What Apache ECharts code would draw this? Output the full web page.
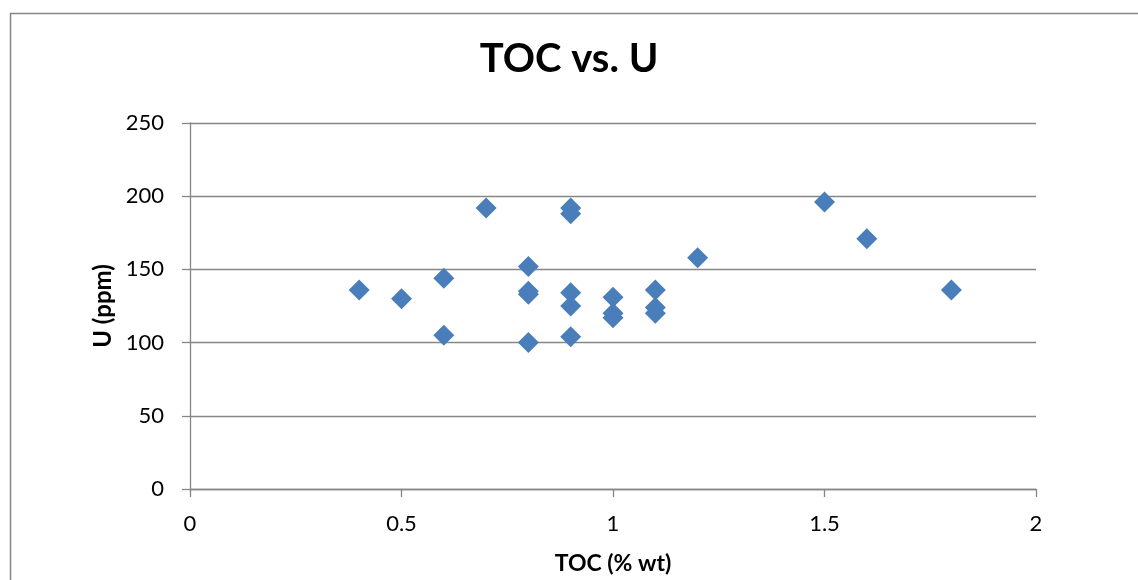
<!DOCTYPE html>
<html>
<head>
<meta charset="utf-8">
<script src="https://cdn.jsdelivr.net/npm/echarts@6/dist/echarts.min.js"></script>
<style>
html,body{margin:0;padding:0;background:#fff;}
#chart{width:1138px;height:580px;}
</style>
</head>
<body>
<div id="chart"></div>
<script>
var chartTitle = 'TOC vs. U';
var xAxisName = 'TOC (% wt)';
var yAxisName = 'U (ppm)';
var tocValues = [0.4, 0.5, 0.6, 0.6, 0.7, 0.8, 0.8, 0.8, 0.8, 0.9, 0.9, 0.9, 0.9, 0.9, 1.0, 1.0, 1.0, 1.1, 1.1, 1.1, 1.2, 1.5, 1.6, 1.8];
var uValues   = [136, 130, 144, 105, 192, 152, 135, 133, 100, 192, 188, 134, 125, 104, 131, 120, 117, 136, 124, 120, 158, 196, 171, 136];
var xTicks = {min: 0, max: 2, interval: 0.5};
var yTicks = {min: 0, max: 250, interval: 50};

var points = tocValues.map(function (x, i) { return [x, uValues[i]]; });

var chart = echarts.init(document.getElementById('chart'));
var font = 'Lato, "Open Sans", sans-serif';
var gray = '#868686';
chart.setOption({
  animation: false,
  backgroundColor: '#fff',
  graphic: [{
    type: 'rect', left: 8, top: 11, z: 100,
    shape: {x: 0, y: 0, width: 1200, height: 700},
    style: {fill: 'none', stroke: gray, lineWidth: 1.5}
  }],
  title: {
    text: chartTitle, left: 'center', top: 34,
    textStyle: {fontFamily: font, fontWeight: 'bold', fontSize: 40, color: '#000'}
  },
  grid: {left: 190, right: 102, top: 123, bottom: 91, containLabel: false},
  xAxis: {
    type: 'value', min: xTicks.min, max: xTicks.max, interval: xTicks.interval,
    name: xAxisName, nameLocation: 'middle', nameGap: 63,
    nameTextStyle: {fontFamily: font, fontWeight: 'bold', fontSize: 23, color: '#000'},
    axisLine: {show: true, onZero: false, lineStyle: {color: gray, width: 1.3}},
    axisTick: {show: true, length: 8, lineStyle: {color: gray, width: 1.3}},
    axisLabel: {fontFamily: font, fontSize: 22, color: '#000', margin: 24},
    splitLine: {show: false}
  },
  yAxis: {
    type: 'value', min: yTicks.min, max: yTicks.max, interval: yTicks.interval,
    name: yAxisName, nameLocation: 'middle', nameGap: 75, nameRotate: 90,
    nameTextStyle: {fontFamily: font, fontWeight: 'bold', fontSize: 24, color: '#000'},
    axisLine: {show: true, lineStyle: {color: gray, width: 1.3}},
    axisTick: {show: true, length: 8, lineStyle: {color: gray, width: 1.3}},
    axisLabel: {fontFamily: font, fontSize: 22, color: '#000', margin: 26},
    splitLine: {show: true, lineStyle: {color: gray, width: 1.3}}
  },
  series: [{
    type: 'scatter',
    data: points,
    symbol: 'diamond',
    symbolSize: [21, 21],
    itemStyle: {color: '#4A7EBB', opacity: 1}
  }]
});
</script>
</body>
</html>
